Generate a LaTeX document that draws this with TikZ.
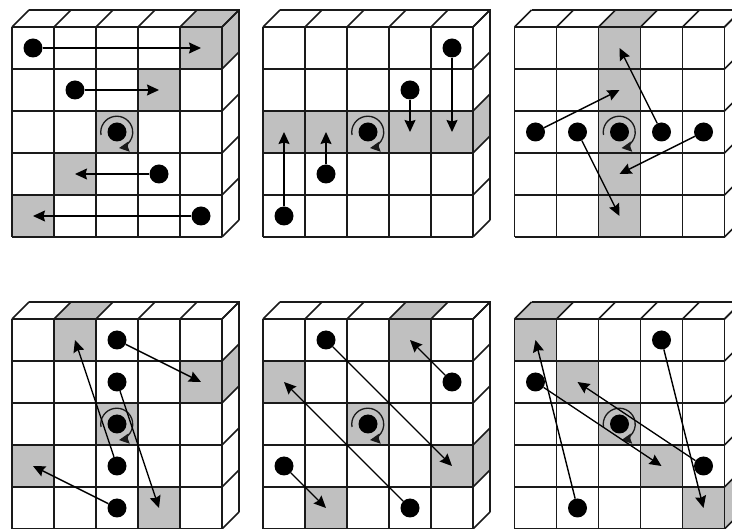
\documentclass[tikz,border=0pt]{standalone}
\usetikzlibrary{arrows.meta,calc}
\definecolor{shadegray}{HTML}{C0C0C0}
\definecolor{inkline}{HTML}{1A1A1A}
\tikzset{
  gridline/.style={draw=inkline,line width=1.6pt,line join=miter},
  shadearea/.style={fill=shadegray,draw=none},
  ball/.style={circle,fill=black,draw=none,inner sep=0pt,minimum size=19pt},
  movearrow/.style={draw=black,line width=1.35pt,-{Stealth[length=12pt,width=11pt,inset=1.5pt]}},
  spinarrow/.style={draw=inkline,line width=1.3pt,-{Stealth[length=10pt,width=10pt,inset=1pt]}}
}
% shaded faces
\newcommand\shadecell[2]{\fill[shadearea] ({#1*42},{#2*42}) rectangle ++(42,42);}
\newcommand\shadetop[1]{\fill[shadearea] ({#1*42},0) -- ++(17,-17) -- ++(42,0) -- ++(-17,17) -- cycle;}
\newcommand\shadeside[1]{\fill[shadearea] (210,{#1*42}) -- ++(17,-17) -- ++(0,42) -- ++(-17,17) -- cycle;}
% box grid, cell centres and central spinning ball
\newcommand\boxgrid{%
  \foreach \i in {0,...,5}{
    \draw[gridline] ({\i*42},0) -- ({\i*42},210);
    \draw[gridline] (0,{\i*42}) -- (210,{\i*42});
    \draw[gridline] ({\i*42},0) -- ++(17,-17);
    \draw[gridline] (210,{\i*42}) -- ++(17,-17);
  }
  \draw[gridline] (17,-17) -- (227,-17) -- (227,193);
  \foreach \c in {0,...,4}{\foreach \r in {0,...,4}{
    \coordinate (c-\c-\r) at ({(\c+.5)*42},{(\r+.5)*42});
  }}
  \node[ball] (spin) at (c-2-2) {};
  \draw[spinarrow] ($(c-2-2)+(-16,3)$) arc[start angle=190,end angle=-82,radius=16pt];
}
\newcommand\ballat[2]{\node[ball] (b-#1-#2) at (c-#1-#2) {};}
\newcommand\move[4]{\ballat{#1}{#2}\draw[movearrow] (b-#1-#2) -- (c-#3-#4);}
\begin{document}
\begin{tikzpicture}[x=1pt,y=-1pt]
\useasboundingbox (0,0) rectangle (732,529);
\clip (0,0) rectangle (732,529);
\fill[white] (0,0) rectangle (732,529);
% panel 1
\begin{scope}[shift={(12,27)},name prefix=p1-]
  \shadecell{4}{0}\shadetop{4}\shadeside{0}
  \shadecell{3}{1}\shadecell{2}{2}\shadecell{1}{3}\shadecell{0}{4}
  \boxgrid
  \move{0}{0}{4}{0}\move{1}{1}{3}{1}\move{3}{3}{1}{3}\move{4}{4}{0}{4}
\end{scope}
% panel 2
\begin{scope}[shift={(263,27)},name prefix=p2-]
  \foreach \c in {0,...,4}{\shadecell{\c}{2}}
  \shadeside{2}
  \boxgrid
  \move{4}{0}{4}{2}\move{3}{1}{3}{2}\move{1}{3}{1}{2}\move{0}{4}{0}{2}
\end{scope}
% panel 3
\begin{scope}[shift={(514.5,27)},name prefix=p3-]
  \foreach \r in {0,...,4}{\shadecell{2}{\r}}
  \shadetop{2}
  \boxgrid
  \move{0}{2}{2}{1}\move{1}{2}{2}{4}\move{3}{2}{2}{0}\move{4}{2}{2}{3}
\end{scope}
% panel 4
\begin{scope}[shift={(12,319)},name prefix=p4-]
  \shadecell{1}{0}\shadetop{1}\shadecell{4}{1}\shadeside{1}
  \shadecell{2}{2}\shadecell{0}{3}\shadecell{3}{4}
  \boxgrid
  \move{2}{0}{4}{1}\move{2}{1}{3}{4}\move{2}{3}{1}{0}\move{2}{4}{0}{3}
\end{scope}
% panel 5
\begin{scope}[shift={(263,319)},name prefix=p5-]
  \shadecell{3}{0}\shadetop{3}\shadecell{0}{1}\shadecell{2}{2}
  \shadecell{4}{3}\shadeside{3}\shadecell{1}{4}
  \boxgrid
  \move{1}{0}{4}{3}\move{4}{1}{3}{0}\move{0}{3}{1}{4}\move{3}{4}{0}{1}
\end{scope}
% panel 6
\begin{scope}[shift={(514.5,319)},name prefix=p6-]
  \shadecell{0}{0}\shadetop{0}\shadecell{1}{1}\shadecell{2}{2}
  \shadecell{3}{3}\shadecell{4}{4}\shadeside{4}
  \boxgrid
  \move{3}{0}{4}{4}\move{0}{1}{3}{3}\move{4}{3}{1}{1}\move{1}{4}{0}{0}
\end{scope}
\end{tikzpicture}
\end{document}
